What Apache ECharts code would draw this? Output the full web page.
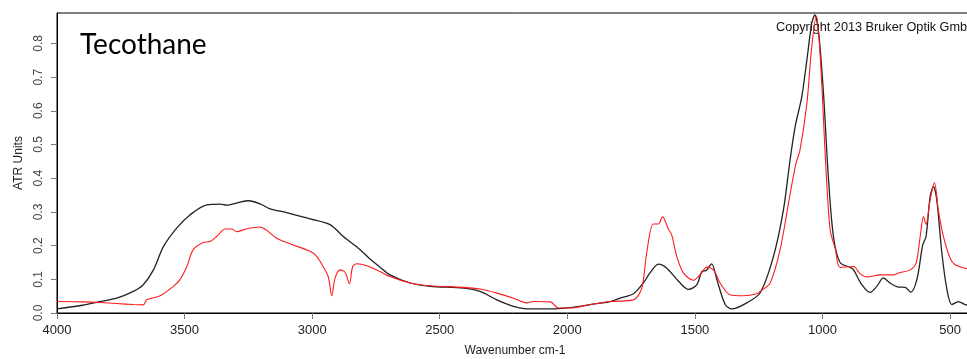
<!DOCTYPE html>
<html>
<head>
<meta charset="utf-8">
<script src="https://cdn.jsdelivr.net/npm/echarts@6/dist/echarts.min.js"></script>
<style>
html,body{margin:0;padding:0;background:#fff;}
#chart{width:967px;height:359px;}
</style>
</head>
<body>
<div id="chart"></div>
<script>
// Black spectrum (reference)
const blackWn = [4000,3900,3831,3766,3701,3662,3622,3583,3531,3479,3413,3361,3335,3296,3250,3204,3165,3100,3008,2930,2878,2812,2773,2734,2695,2616,2538,2407,2342,2276,2211,2146,2067,1989,1910,1832,1793,1741,1702,1676,1643,1610,1564,1525,1492,1473,1456,1434,1414,1381,1355,1297,1244,1192,1153,1127,1107,1081,1061,1042,1030,1016,996,977,957,931,891,878,846,813,787,761,735,703,676,654,630,607,594,578,565,552,532,512,493,467,441,413];
const blackVal = [0.012,0.023,0.034,0.044,0.064,0.084,0.128,0.197,0.252,0.291,0.321,0.323,0.320,0.326,0.333,0.324,0.309,0.298,0.279,0.262,0.227,0.188,0.160,0.136,0.113,0.089,0.079,0.074,0.064,0.039,0.020,0.012,0.012,0.016,0.025,0.034,0.044,0.057,0.089,0.119,0.145,0.133,0.094,0.070,0.084,0.123,0.126,0.146,0.099,0.025,0.012,0.030,0.060,0.168,0.306,0.454,0.553,0.642,0.751,0.859,0.884,0.839,0.652,0.405,0.227,0.150,0.135,0.128,0.084,0.061,0.079,0.104,0.089,0.077,0.076,0.062,0.099,0.202,0.227,0.345,0.375,0.336,0.178,0.069,0.025,0.034,0.025,0.022];

// Red spectrum (sample)
const redWn = [4000,3897,3831,3766,3701,3662,3648,3596,3544,3518,3491,3466,3426,3400,3374,3341,3315,3296,3256,3204,3178,3139,3074,3008,2982,2956,2937,2923,2910,2891,2871,2854,2841,2825,2786,2734,2695,2616,2538,2407,2342,2276,2211,2159,2133,2067,2035,1989,1910,1832,1741,1708,1689,1663,1643,1627,1604,1591,1571,1545,1506,1480,1453,1427,1401,1362,1310,1257,1244,1205,1166,1133,1105,1088,1061,1042,1024,1008,988,970,949,931,878,852,826,774,722,696,656,633,617,604,594,578,561,546,526,500,480,441,413];
const redVal = [0.034,0.033,0.031,0.028,0.025,0.024,0.039,0.051,0.079,0.099,0.138,0.188,0.209,0.212,0.227,0.249,0.249,0.241,0.250,0.255,0.245,0.222,0.202,0.183,0.168,0.136,0.108,0.051,0.104,0.128,0.121,0.087,0.138,0.146,0.140,0.123,0.108,0.089,0.081,0.076,0.071,0.059,0.044,0.030,0.034,0.033,0.015,0.015,0.025,0.034,0.039,0.074,0.178,0.264,0.264,0.286,0.249,0.232,0.168,0.119,0.097,0.113,0.136,0.128,0.089,0.054,0.051,0.057,0.064,0.089,0.188,0.326,0.440,0.484,0.622,0.790,0.881,0.751,0.454,0.247,0.188,0.135,0.138,0.116,0.107,0.113,0.113,0.120,0.128,0.148,0.227,0.286,0.262,0.336,0.387,0.306,0.227,0.163,0.143,0.133,0.128];

const xTicks = [500,1000,1500,2000,2500,3000,3500,4000];
const yTicks = [0,0.1,0.2,0.3,0.4,0.5,0.6,0.7,0.8];

const chart = echarts.init(document.getElementById('chart'), null, {renderer:'canvas'});
const pair = (xs, ys) => xs.map((x,i)=>[x, ys[i]]);

chart.setOption({
  animation:false,
  backgroundColor:'#fff',
  grid:{left:57,right:-6,top:13,bottom:46,show:true,borderColor:'#000',borderWidth:1,backgroundColor:'transparent',
    containLabel:false,outerBoundsMode:'none'},
  xAxis:{
    type:'value',inverse:true,min:410,max:4000,
    name:'Wavenumber cm-1',nameLocation:'middle',nameGap:32,
    nameTextStyle:{fontFamily:'Liberation Sans',fontSize:12,color:'#222'},
    axisLine:{show:true,lineStyle:{color:'#000',width:1}},
    axisTick:{show:true,customValues:xTicks,length:6,lineStyle:{color:'#777'}},
    axisLabel:{customValues:xTicks,margin:11,fontFamily:'Liberation Sans',fontSize:13,color:'#222',
      formatter:v=>String(v)},
    splitLine:{show:false}
  },
  yAxis:{
    type:'value',min:0,max:0.89,
    name:'ATR Units',nameLocation:'middle',nameGap:31,
    nameTextStyle:{fontFamily:'Liberation Sans',fontSize:12,color:'#222'},
    axisLine:{show:true,lineStyle:{color:'#000',width:1}},
    axisTick:{show:true,customValues:yTicks,length:6,lineStyle:{color:'#777'}},
    axisLabel:{customValues:yTicks,rotate:90,margin:12,fontFamily:'Liberation Sans',fontSize:12,color:'#444',
      formatter:v=>v.toFixed(1)},
    splitLine:{show:false}
  },
  graphic:[
    {type:'text',left:80,top:31,style:{text:'Tecothane',font:'28px Lato',fill:'#000'}},
    {type:'text',left:776,top:21,style:{text:'Copyright 2013 Bruker Optik Gmb',font:'12.7px "Liberation Sans"',fill:'#111'}}
  ],
  series:[
    {type:'line',data:pair(blackWn,blackVal),showSymbol:false,smooth:0.3,
      lineStyle:{color:'#222',width:1.3},z:3},
    {type:'line',data:pair(redWn,redVal),showSymbol:false,smooth:0.3,
      lineStyle:{color:'#ff1a1a',width:1.1},z:4}
  ]
});
</script>
</body>
</html>
